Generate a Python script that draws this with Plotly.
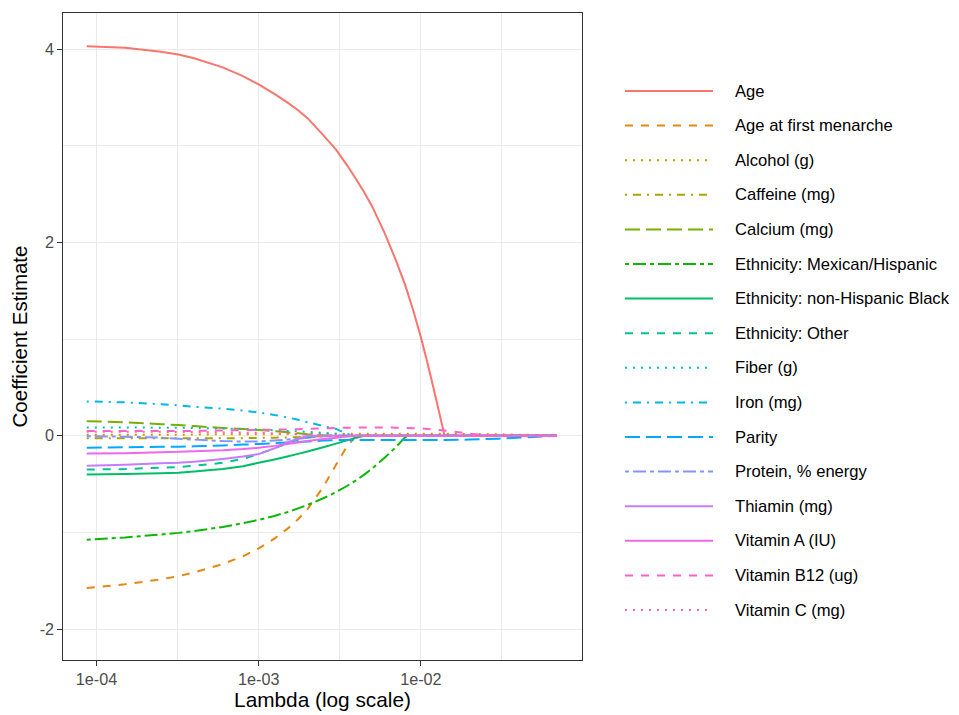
import plotly.graph_objects as go

# ---------------- data ----------------
lambdas = [8.7e-5, 1.5e-4, 2.5e-4, 3.2e-4, 4e-4, 6e-4, 8e-4, 1e-3, 1.25e-3, 1.5e-3,
           1.75e-3, 2e-3, 2.5e-3, 3e-3, 3.5e-3, 4e-3, 4.5e-3, 5e-3, 6e-3, 7e-3,
           8e-3, 9e-3, 1e-2, 1.1e-2, 1.2e-2, 1.3e-2, 1.4e-2, 2e-2, 3e-2, 4.5e-2, 6.9e-2]

age = [4.03, 4.013, 3.973, 3.944, 3.905, 3.81, 3.72, 3.634, 3.537, 3.449,
       3.367, 3.285, 3.11, 2.96, 2.80, 2.65, 2.51, 2.375, 2.09, 1.82,
       1.56, 1.29, 1.02, 0.75, 0.485, 0.235, 0, 0, 0, 0, 0]
age_menarche = [-1.575, -1.537, -1.485, -1.453, -1.414, -1.327, -1.247, -1.165, -1.064, -0.964,
                -0.864, -0.76, -0.53, -0.30, -0.11, 0, 0, 0, 0, 0,
                0, 0, 0, 0, 0, 0, 0, 0, 0, 0, 0]
alcohol = [0.01, 0.01, 0.01, 0.011, 0.012, 0.015, 0.015, 0.015, 0.017, 0.018,
           0.019, 0.02, 0.02, 0.02, 0.02, 0.02, 0.02, 0.02, 0.02, 0.02,
           0.02, 0.02, 0.02, 0.02, 0.02, 0.02, 0.02, 0.018, 0.015, 0.01, 0]
caffeine = [-0.025, -0.025, -0.025, -0.025, -0.025, -0.025, -0.025, -0.022, -0.02, -0.018,
            -0.015, -0.012, -0.006, -0.002, 0, 0, 0, 0, 0, 0,
            0, 0, 0, 0, 0, 0, 0, 0, 0, 0, 0]
calcium = [0.15, 0.14, 0.12, 0.11, 0.10, 0.08, 0.07, 0.06, 0.047, 0.035,
           0.025, 0.015, 0.005, 0, 0, 0, 0, 0, 0, 0,
           0, 0, 0, 0, 0, 0, 0, 0, 0, 0, 0]
eth_mexican = [-1.075, -1.052, -1.022, -1.005, -0.986, -0.943, -0.905, -0.87, -0.83, -0.79,
               -0.752, -0.716, -0.647, -0.583, -0.52, -0.46, -0.40, -0.34, -0.225, -0.12,
               -0.015, 0, 0, 0, 0, 0, 0, 0, 0, 0, 0]
eth_black = [-0.40, -0.395, -0.388, -0.383, -0.37, -0.345, -0.315, -0.28, -0.245, -0.215,
             -0.188, -0.163, -0.12, -0.082, -0.048, -0.02, 0, 0, 0, 0,
             0, 0, 0, 0, 0, 0, 0, 0, 0, 0, 0]
eth_other = [-0.35, -0.345, -0.33, -0.325, -0.31, -0.28, -0.24, -0.19, -0.13, -0.08,
             -0.04, -0.02, 0, 0, 0, 0, 0, 0, 0, 0,
             0, 0, 0, 0, 0, 0, 0, 0, 0, 0, 0]
fiber = [0.086, 0.085, 0.083, 0.082, 0.08, 0.075, 0.07, 0.065, 0.057, 0.05,
         0.045, 0.04, 0.03, 0.02, 0.01, 0, 0, 0, 0, 0,
         0, 0, 0, 0, 0, 0, 0, 0, 0, 0, 0]
iron = [0.355, 0.345, 0.325, 0.315, 0.30, 0.28, 0.26, 0.24, 0.215, 0.19,
        0.165, 0.14, 0.10, 0.07, 0.02, 0, 0, 0, 0, 0,
        0, 0, 0, 0, 0, 0, 0, 0, 0, 0, 0]
parity = [-0.125, -0.12, -0.115, -0.113, -0.11, -0.10, -0.092, -0.085, -0.077, -0.07,
          -0.065, -0.06, -0.05, -0.045, -0.045, -0.045, -0.045, -0.045, -0.045, -0.045,
          -0.045, -0.045, -0.045, -0.045, -0.045, -0.045, -0.045, -0.04, -0.03, -0.015, 0]
protein = [-0.005, -0.01, -0.02, -0.03, -0.04, -0.055, -0.06, -0.06, -0.05, -0.04,
           -0.03, -0.02, -0.005, 0, 0, 0, 0, 0, 0, 0,
           0, 0, 0, 0, 0, 0, 0, 0, 0, 0, 0]
thiamin = [-0.31, -0.30, -0.285, -0.28, -0.27, -0.24, -0.215, -0.19, -0.13, -0.07,
           -0.03, 0, 0, 0, 0, 0, 0, 0, 0, 0,
           0, 0, 0, 0, 0, 0, 0, 0, 0, 0, 0]
vitamin_a = [-0.185, -0.18, -0.17, -0.167, -0.16, -0.15, -0.138, -0.125, -0.105, -0.085,
             -0.07, -0.055, -0.035, -0.02, -0.008, 0, 0, 0, 0, 0,
             0, 0, 0, 0, 0, 0, 0, 0, 0, 0, 0]
vitamin_b12 = [0.05, 0.05, 0.05, 0.05, 0.05, 0.055, 0.058, 0.06, 0.063, 0.065,
               0.068, 0.07, 0.075, 0.08, 0.083, 0.085, 0.085, 0.085, 0.085, 0.083,
               0.08, 0.078, 0.075, 0.07, 0.065, 0.06, 0.055, 0.02, 0, 0, 0]
vitamin_c = [0.04, 0.04, 0.04, 0.039, 0.038, 0.035, 0.032, 0.03, 0.025, 0.02,
             0.015, 0.01, 0.005, 0, 0, 0, 0, 0, 0, 0,
             0, 0, 0, 0, 0, 0, 0, 0, 0, 0, 0]

names = ["Age", "Age at first menarche", "Alcohol (g)", "Caffeine (mg)", "Calcium (mg)",
         "Ethnicity: Mexican/Hispanic", "Ethnicity: non-Hispanic Black", "Ethnicity: Other",
         "Fiber (g)", "Iron (mg)", "Parity", "Protein, % energy", "Thiamin (mg)",
         "Vitamin A (IU)", "Vitamin B12 (ug)", "Vitamin C (mg)"]
values = [age, age_menarche, alcohol, caffeine, calcium, eth_mexican, eth_black, eth_other,
          fiber, iron, parity, protein, thiamin, vitamin_a, vitamin_b12, vitamin_c]

x_ticks = [1e-4, 1e-3, 1e-2]
x_ticktext = ["1e-04", "1e-03", "1e-02"]
x_minor = [10 ** -3.5, 10 ** -2.5, 10 ** -1.5]
y_ticks = [-2, 0, 2, 4]
y_minor = [-1, 1, 3]

# ---------------- styles ----------------
colors = ["#F8766D", "#E68613", "#CD9600", "#ABA300", "#7CAE00", "#0CB702", "#00BE67", "#00C19A",
          "#00BFC4", "#00B8E7", "#00A9FF", "#8494FF", "#C77CFF", "#ED68ED", "#FF61CC", "#FF68A1"]
SOLID = "solid"
DASHED = "8px,8px"
DOTTED = "2px,6px"
DOTDASH = "2px,6px,8px,6px"
LONGDASH = "15px,6px"
TWODASH = "4px,4px,13px,4px"
dashes = [SOLID, DASHED, DOTTED, DOTDASH, LONGDASH, TWODASH, SOLID, DASHED,
          DOTTED, DOTDASH, LONGDASH, TWODASH, SOLID, SOLID, DASHED, DOTTED]

# page has an 8px body margin: figure box is offset by 8px
OFF = 8
W, H = 959 - OFF, 715 - OFF
PL, PR, PT, PB = 63 - OFF, 582 - OFF, 13 - OFF, 660 - OFF
LW = 2.0

fig = go.Figure()
for n, v, c, d in zip(names, values, colors, dashes):
    fig.add_trace(go.Scatter(x=lambdas, y=v, mode="lines", name=n,
                             line=dict(color=c, dash=d, width=LW, simplify=False),
                             showlegend=False))

# ---------------- custom legend (ggplot style keys) ----------------
def px_to_paper_x(px):
    return (px - OFF - PL) / (PR - PL)

def px_to_paper_y(py):
    return (PB - (py - OFF)) / (PB - PT)

shapes = []
annotations = []
leg_y0 = 91
leg_step = 34.6
for i, (n, c, d) in enumerate(zip(names, colors, dashes)):
    yy = leg_y0 + i * leg_step
    shapes.append(dict(type="line", xref="paper", yref="paper",
                       x0=px_to_paper_x(625), x1=px_to_paper_x(713),
                       y0=px_to_paper_y(yy), y1=px_to_paper_y(yy),
                       line=dict(color=c, dash=d, width=LW)))
    annotations.append(dict(xref="paper", yref="paper", x=px_to_paper_x(733), y=px_to_paper_y(yy),
                            text=n, showarrow=False, xanchor="left", yanchor="middle",
                            font=dict(size=16.6, color="#000000")))

FONT = "Liberation Sans, Arial, Helvetica, sans-serif"

fig.update_layout(
    width=W, height=H, autosize=False,
    margin=dict(l=PL, r=W - PR, t=PT, b=H - PB, autoexpand=False),
    paper_bgcolor="white", plot_bgcolor="white",
    font=dict(family=FONT, color="#000000"),
    shapes=shapes, annotations=annotations,
    showlegend=False,
)
fig.update_xaxes(
    type="log", range=[-4.207, -1.006], automargin=False,
    tickvals=x_ticks, ticktext=x_ticktext,
    ticks="outside", ticklen=4.5, tickwidth=1.1, tickcolor="#333333",
    tickfont=dict(size=16.2, color="#4D4D4D", family=FONT),
    showline=True, mirror=True, linecolor="#333333", linewidth=1.3,
    showgrid=True, gridcolor="#EBEBEB", gridwidth=1.3, zeroline=False,
    minor=dict(tickvals=x_minor, showgrid=True, gridcolor="#EBEBEB", gridwidth=0.7, ticks=""),
    title=dict(text="Lambda (log scale)", font=dict(size=20.8, color="#000000", family=FONT), standoff=4),
)
fig.update_yaxes(
    range=[-2.32, 4.373], automargin=False,
    tickvals=y_ticks, ticktext=[str(t) for t in y_ticks],
    ticks="outside", ticklen=4.5, tickwidth=1.1, tickcolor="#333333",
    tickfont=dict(size=16.2, color="#4D4D4D", family=FONT),
    showline=True, mirror=True, linecolor="#333333", linewidth=1.3,
    showgrid=True, gridcolor="#EBEBEB", gridwidth=1.3, zeroline=False,
    minor=dict(tickvals=y_minor, showgrid=True, gridcolor="#EBEBEB", gridwidth=0.7, ticks=""),
    title=dict(text="Coefficient Estimate", font=dict(size=20.5, color="#000000", family=FONT), standoff=6),
)

fig.write_html("out.html")
